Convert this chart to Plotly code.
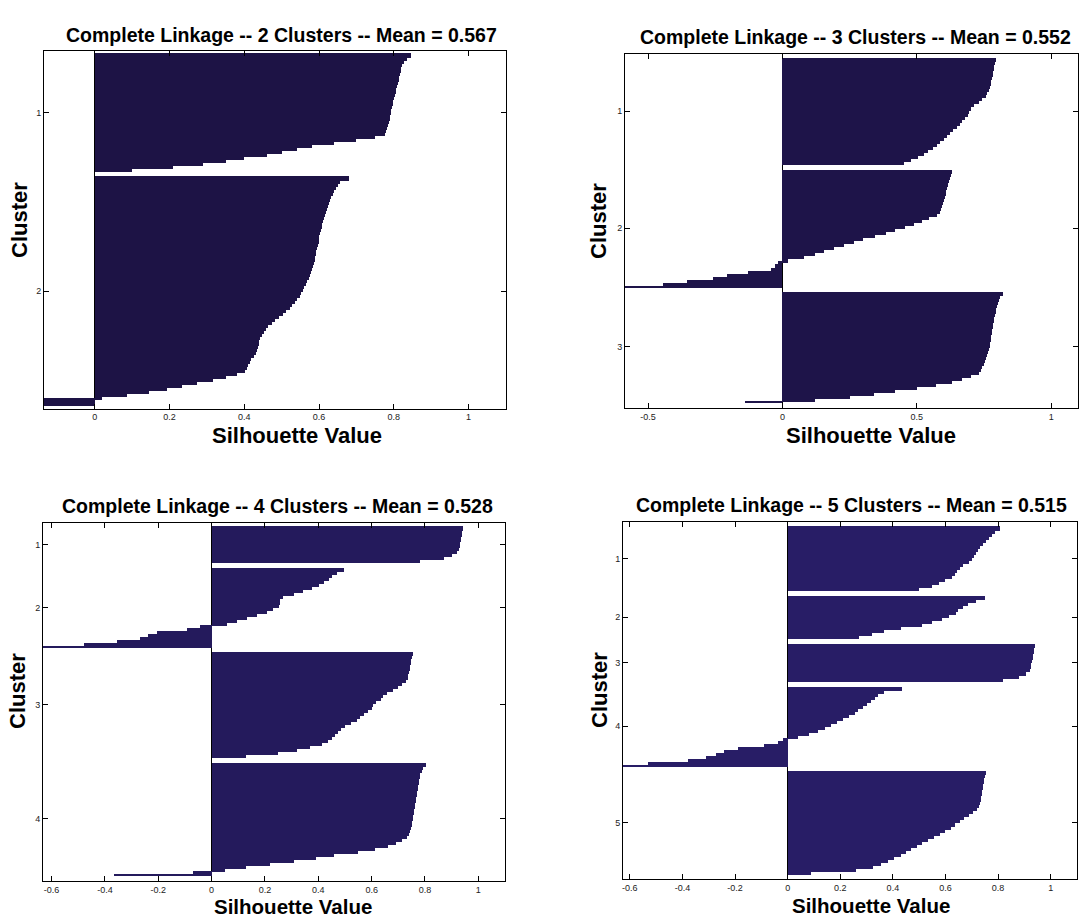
import plotly.graph_objects as go

W, H = 1080, 918
FONT = 'Liberation Sans, Arial, Helvetica, sans-serif'

# ---------------- data (silhouette values, sorted within each cluster) ----------------
p1_c1 = [0.845, 0.834, 0.828, 0.823, 0.820, 0.818, 0.816, 0.814, 0.813, 0.811,
         0.809, 0.807, 0.805, 0.803, 0.801, 0.799, 0.797, 0.795, 0.793, 0.792,
         0.790, 0.789, 0.787, 0.785, 0.782, 0.778, 0.776, 0.750, 0.700, 0.640,
         0.580, 0.540, 0.500, 0.460, 0.400, 0.350, 0.290, 0.210, 0.100]
p1_c2 = [0.679, 0.657, 0.650, 0.644, 0.640, 0.636, 0.633, 0.630, 0.627, 0.624,
         0.621, 0.618, 0.616, 0.614, 0.611, 0.609, 0.607, 0.605, 0.603, 0.601,
         0.600, 0.599, 0.597, 0.595, 0.593, 0.591, 0.589, 0.588, 0.585, 0.583,
         0.580, 0.578, 0.576, 0.572, 0.568, 0.564, 0.560, 0.556, 0.552, 0.548,
         0.541, 0.535, 0.528, 0.521, 0.512, 0.503, 0.493, 0.483, 0.473, 0.464,
         0.458, 0.452, 0.447, 0.442, 0.440, 0.438, 0.436, 0.434, 0.432, 0.425,
         0.419, 0.415, 0.411, 0.407, 0.402, 0.380, 0.350, 0.315, 0.273, 0.232,
         0.194, 0.144, 0.085, 0.020, -0.150, -0.150]

p2_c1 = [0.795, 0.792, 0.789, 0.787, 0.784, 0.782, 0.779, 0.778, 0.777, 0.773,
         0.769, 0.763, 0.757, 0.742, 0.730, 0.712, 0.702, 0.696, 0.690, 0.680,
         0.670, 0.660, 0.648, 0.636, 0.624, 0.612, 0.600, 0.588, 0.575, 0.560,
         0.543, 0.527, 0.505, 0.480, 0.454]
p2_c2 = [0.630, 0.627, 0.623, 0.619, 0.617, 0.613, 0.610, 0.608, 0.604, 0.600,
         0.597, 0.593, 0.591, 0.587, 0.574, 0.545, 0.520, 0.490, 0.455, 0.420,
         0.385, 0.345, 0.300, 0.265, 0.230, 0.190, 0.155, 0.120, 0.080, 0.020,
         -0.016, -0.029, -0.041, -0.128, -0.208, -0.258, -0.357, -0.444]
p2_c2_thin = [-0.60]
p2_c3 = [0.821, 0.809, 0.805, 0.801, 0.798, 0.795, 0.793, 0.790, 0.788, 0.787,
         0.784, 0.783, 0.780, 0.779, 0.778, 0.775, 0.773, 0.772, 0.768, 0.764,
         0.761, 0.757, 0.753, 0.749, 0.744, 0.740, 0.730, 0.700, 0.670, 0.630,
         0.570, 0.500, 0.420, 0.340, 0.250, 0.120]
p2_c3_thin = [-0.14]

p3_c1 = [0.942, 0.939, 0.937, 0.936, 0.934, 0.933, 0.931, 0.927, 0.919, 0.900,
         0.870, 0.780]
p3_c2 = [0.497, 0.469, 0.451, 0.439, 0.422, 0.401, 0.376, 0.344, 0.309, 0.267,
         0.257, 0.256, 0.254, 0.232, 0.207, 0.169, 0.132, 0.094, 0.057,
         -0.043, -0.093, -0.206, -0.237, -0.268, -0.356, -0.480]
p3_c2_thin = [-0.65]
p3_c3 = [0.756, 0.751, 0.749, 0.746, 0.744, 0.743, 0.740, 0.738, 0.735, 0.730,
         0.713, 0.698, 0.681, 0.656, 0.644, 0.635, 0.615, 0.606, 0.600, 0.585,
         0.573, 0.558, 0.544, 0.523, 0.500, 0.485, 0.473, 0.463, 0.450, 0.438,
         0.415, 0.370, 0.320, 0.250, 0.130]
p3_c4 = [0.803, 0.793, 0.788, 0.783, 0.780, 0.779, 0.778, 0.775, 0.774, 0.771,
         0.770, 0.768, 0.766, 0.764, 0.763, 0.760, 0.759, 0.756, 0.755, 0.753,
         0.750, 0.748, 0.745, 0.741, 0.731, 0.713, 0.690, 0.663, 0.613, 0.550,
         0.460, 0.390, 0.310, 0.220, 0.130, 0.050, -0.070]
p3_c4_thin = [-0.365]

p4_c1 = [0.809, 0.788, 0.776, 0.764, 0.753, 0.741, 0.733, 0.725, 0.717, 0.710,
         0.702, 0.691, 0.667, 0.655, 0.645, 0.638, 0.625, 0.600, 0.575, 0.550,
         0.500]
p4_c2 = [0.750, 0.716, 0.684, 0.667, 0.649, 0.640, 0.615, 0.585, 0.550, 0.510,
         0.430, 0.365, 0.320, 0.270]
p4_c3 = [0.942, 0.938, 0.935, 0.933, 0.932, 0.929, 0.927, 0.924, 0.920, 0.905,
         0.880, 0.820]
p4_c4 = [0.435, 0.368, 0.345, 0.332, 0.317, 0.302, 0.285, 0.269, 0.256, 0.234,
         0.209, 0.188, 0.165, 0.142, 0.117, 0.082, 0.038,
         -0.019, -0.038, -0.089, -0.190, -0.241, -0.272, -0.311, -0.380, -0.532]
p4_c4_thin = [-0.65]
p4_c5 = [0.755, 0.750, 0.748, 0.746, 0.744, 0.742, 0.740, 0.738, 0.736, 0.734,
         0.731, 0.727, 0.720, 0.705, 0.690, 0.672, 0.655, 0.638, 0.620, 0.600,
         0.580, 0.556, 0.532, 0.510, 0.490, 0.468, 0.450, 0.430, 0.405, 0.380,
         0.355, 0.325, 0.260, 0.090]

titles = ["Complete Linkage -- 2 Clusters -- Mean = 0.567",
          "Complete Linkage -- 3 Clusters -- Mean = 0.552",
          "Complete Linkage -- 4 Clusters -- Mean = 0.528",
          "Complete Linkage -- 5 Clusters -- Mean = 0.515"]
x_ticks_p1 = [0, 0.2, 0.4, 0.6, 0.8, 1]
x_labels_p1 = ["0", "0.2", "0.4", "0.6", "0.8", "1"]
x_ticks_p2 = [-0.5, 0, 0.5, 1]
x_labels_p2 = ["-0.5", "0", "0.5", "1"]
x_ticks_p34 = [-0.6, -0.4, -0.2, 0, 0.2, 0.4, 0.6, 0.8, 1]
x_labels_p34 = ["-0.6", "-0.4", "-0.2", "0", "0.2", "0.4", "0.6", "0.8", "1"]
x_axis_label = "Silhouette Value"
y_axis_label = "Cluster"

# ---------------- layout (pixel geometry) ----------------
panels = [
    dict(clusters=[p1_c1, p1_c2], thin={}, xr=[-0.136, 1.1], color='#1d1345',
         xt=(x_ticks_p1, x_labels_p1), box=(44, 506, 51, 408.5), bars=(54, 405),
         title_xy=(281, 35), xlab_xy=(297, 435), xlab_size=22, ylab_xy=(19, 220)),
    dict(clusters=[p2_c1, p2_c2, p2_c3], thin={1: p2_c2_thin, 2: p2_c3_thin},
         xr=[-0.586, 1.1], xt=(x_ticks_p2, x_labels_p2), color='#1e1449',
         box=(625, 1078, 53.7, 408.3), bars=(58, 401.5),
         title_xy=(855, 37), xlab_xy=(871, 435), xlab_size=22, ylab_xy=(599, 221)),
    dict(clusters=[p3_c1, p3_c2, p3_c3, p3_c4], thin={1: p3_c2_thin, 3: p3_c4_thin},
         xr=[-0.632, 1.1], xt=(x_ticks_p34, x_labels_p34), color='#241a5c',
         box=(43, 505, 522.7, 881), bars=(526.7, 874),
         title_xy=(277, 506), xlab_xy=(293, 906), xlab_size=20.5, ylab_xy=(17, 691)),
    dict(clusters=[p4_c1, p4_c2, p4_c3, p4_c4, p4_c5], thin={3: p4_c4_thin},
         xr=[-0.626, 1.1], xt=(x_ticks_p34, x_labels_p34), color='#281d66',
         box=(623, 1077, 521.7, 879), bars=(526.7, 874),
         title_xy=(851, 505), xlab_xy=(871, 905), xlab_size=20.5, ylab_xy=(599, 690)),
]

fig = go.Figure()
annotations = []
GAP = 2

for i, p in enumerate(panels):
    sfx = '' if i == 0 else str(i + 1)
    xs, ys, tx, ty, centers = [], [], [], [], []
    pos = 1
    for ci, vals in enumerate(p['clusters']):
        first = pos
        for v in vals:
            xs.append(v)
            ys.append(pos)
            pos += 1
        last = pos - 1
        centers.append((first + last) / 2)
        for v in p['thin'].get(ci, []):
            tx.append(v)
            ty.append(last + 0.7)
        pos += GAP
    total = pos - 1 - GAP
    bl, br, bt, bb = p['box']
    top_px, bot_px = p['bars']
    ppu = (bot_px - top_px) / total
    y_top = 0.5 - (top_px - bt) / ppu
    y_bot = total + 0.5 + (bb - bot_px) / ppu

    fig.add_trace(go.Bar(x=xs, y=ys, orientation='h', width=1.35,
                         marker=dict(color=p['color'], line=dict(width=0)),
                         xaxis='x' + sfx, yaxis='y' + sfx, showlegend=False,
                         hoverinfo='x'))
    if tx:
        fig.add_trace(go.Bar(x=tx, y=ty, orientation='h', width=0.4,
                             marker=dict(color=p['color'], line=dict(width=0)),
                             xaxis='x' + sfx, yaxis='y' + sfx, showlegend=False,
                             hoverinfo='x'))

    common = dict(showline=True, linecolor='black', linewidth=1, mirror='allticks',
                  ticks='inside', ticklen=5, tickcolor='black', tickwidth=1,
                  showgrid=False, tickfont=dict(size=9, color='#222', family=FONT))
    fig.update_layout(**{
        'xaxis' + sfx: dict(domain=[bl / W, br / W], range=p['xr'],
                            tickvals=p['xt'][0], ticktext=p['xt'][1],
                            zeroline=True, zerolinecolor='black', zerolinewidth=1.3,
                            anchor='y' + sfx, **common),
        'yaxis' + sfx: dict(domain=[1 - bb / H, 1 - bt / H], range=[y_bot, y_top],
                            tickvals=centers,
                            ticktext=[str(k + 1) for k in range(len(centers))],
                            zeroline=False, anchor='x' + sfx, **common),
    })

    annotations.append(dict(text='<b>' + titles[i] + '</b>', xref='paper', yref='paper',
                            x=p['title_xy'][0] / W, y=1 - p['title_xy'][1] / H,
                            xanchor='center', yanchor='middle', showarrow=False,
                            font=dict(size=19.5, color='black', family=FONT)))
    annotations.append(dict(text='<b>' + x_axis_label + '</b>', xref='paper', yref='paper',
                            x=p['xlab_xy'][0] / W, y=1 - p['xlab_xy'][1] / H,
                            xanchor='center', yanchor='middle', showarrow=False,
                            font=dict(size=p['xlab_size'], color='black', family=FONT)))
    annotations.append(dict(text='<b>' + y_axis_label + '</b>', xref='paper', yref='paper',
                            x=p['ylab_xy'][0] / W, y=1 - p['ylab_xy'][1] / H,
                            xanchor='center', yanchor='middle', showarrow=False,
                            textangle=-90,
                            font=dict(size=22, color='black', family=FONT)))

fig.update_layout(width=W, height=H, margin=dict(l=0, r=0, t=0, b=0),
                  paper_bgcolor='white', plot_bgcolor='white',
                  barmode='overlay', bargap=0, annotations=annotations,
                  font=dict(family=FONT))

fig.write_html("out.html",
               config={'displayModeBar': False},
               post_script="document.body.style.margin='0px';"
                           "document.body.style.overflow='hidden';")
